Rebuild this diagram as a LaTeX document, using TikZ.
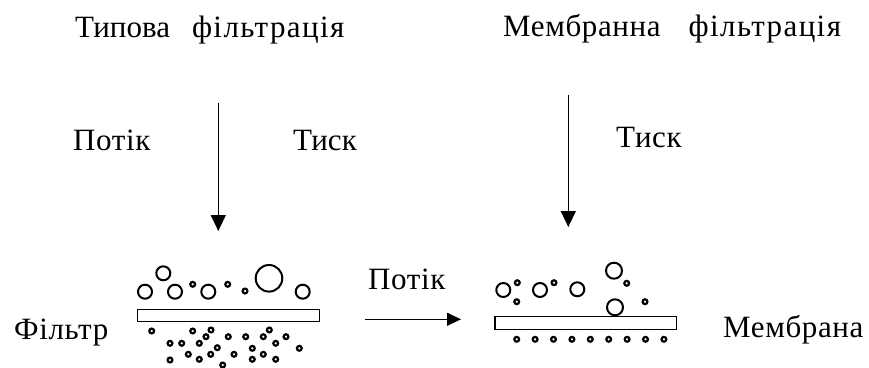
\documentclass[tikz,border=0pt]{standalone}
\usepackage{fontspec}
\setmainfont[LetterSpace=2]{Liberation Serif}
\newfontfamily\widefont[LetterSpace=4.5]{Liberation Serif}
\newfontfamily\tightfont{Liberation Serif}
\usetikzlibrary{arrows.meta}
\begin{document}
\begin{tikzpicture}[x=1pt,y=-1pt,
  lbl/.style={inner sep=0pt,anchor=base west,font=\fontsize{31}{36}\selectfont},
  flow/.style={line width=1.3pt,-{Triangle[length=16pt,width=15pt]}},
  flowsm/.style={line width=1.2pt,-{Triangle[length=14pt,width=13pt]}},
  plate/.style={draw,line width=1.5pt},
  big/.style={draw,line width=2pt},
  dot/.style={draw,line width=2.2pt}]
\useasboundingbox (0,0) rectangle (869,367);
% titles
\node[lbl] (t1) at (75,37) {{\tightfont Типова}\hspace{22pt}{\widefont фільтрація}};
\node[lbl] (t2) at (503,36) {Мембранна\hspace{28pt}{\widefont фільтрація}};
% side labels
\node[lbl] (p1) at (73,150) {Потік};
\node[lbl] (s1) at (293,150) {{\tightfont Тиск}};
\node[lbl] (s2) at (616,147.5) {Тиск};
\node[lbl] (p2) at (368,289) {Потік};
\node[lbl] (f) at (14,339) {Фільтр};
\node[lbl] (m) at (723,337) {Мембрана};
% arrows
\coordinate (a1s) at (218.3,103);
\coordinate (a1e) at (218.3,231);
\coordinate (a2s) at (568.3,95);
\coordinate (a2e) at (568.3,227);
\coordinate (a3s) at (365,319.3);
\coordinate (a3e) at (461,319.3);
\draw[flow] (a1s) -- (a1e);
\draw[flow] (a2s) -- (a2e);
\draw[flowsm] (a3s) -- (a3e);
% filter and membrane
\draw[plate] (137.3,309.3) rectangle (319.3,321.7);
\draw[plate] (495,316.7) rectangle (676.7,329.3);
% particles above filter
\foreach \x/\y/\r in {145/291.7/7, 163.3/273.3/7, 175/291.7/7, 208.3/291.7/7, 269/278.3/13.3, 302.7/291.7/7}
  \draw[big] (\x,\y) circle (\r);
\foreach \x/\y in {192.7/284.3, 227.7/284.3, 245/291}
  \draw[dot] (\x,\y) circle (2.4);
% particles passed through filter
\foreach \x/\y in {151.7/331, 192.7/331, 211/330, 206/336.7, 199.3/343.3, 170/343.3, 181.7/343.3,
  228.3/336.7, 245.7/336.7, 263.3/336.7, 269.3/330, 275.7/343.3, 286/336.7, 299.3/348.3,
  217.3/347.7, 210.7/354.3, 188.3/354.3, 170/360, 199.3/359.3, 234/354.3, 252.3/348.3,
  252.3/359.3, 263.3/354.3, 275.7/359.3, 222.7/365}
  \draw[dot] (\x,\y) circle (2.4);
% particles above membrane
\foreach \x/\y/\r in {503.3/290/7, 540/290/7, 577.3/289.3/7, 614/270.7/8, 615/307.3/8}
  \draw[big] (\x,\y) circle (\r);
\foreach \x/\y in {517.3/282.7, 516.7/301.7, 554/282.7, 626.7/283.3, 645/301.7}
  \draw[dot] (\x,\y) circle (2.4);
% permeate below membrane
\foreach \i in {0,...,8}
  \draw[dot] (516.7+18.4*\i,339.3) circle (2.4);
\end{tikzpicture}
\end{document}
